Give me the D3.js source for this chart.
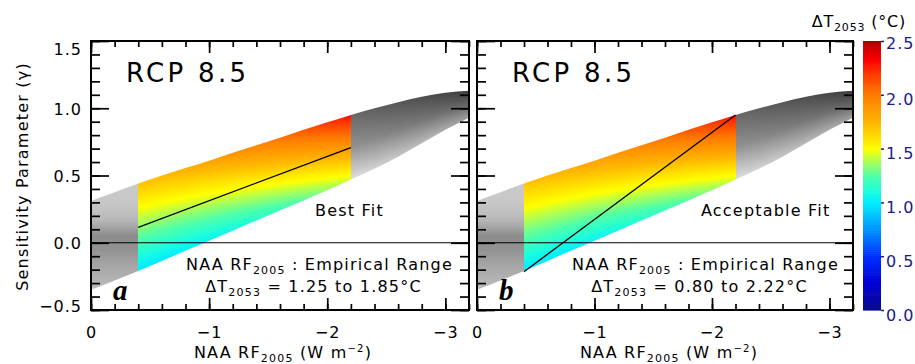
<!DOCTYPE html>
<html>
<head>
<meta charset="utf-8">
<script src="https://cdn.jsdelivr.net/npm/d3@7"></script>
<style>
  html, body { margin: 0; padding: 0; background: #fff; }
  svg { display: block; font-family: "DejaVu Sans", sans-serif; }
</style>
</head>
<body>
<script>
// Envelope of the sensitivity parameter (gamma) against NAA RF2005
const rfSamples  = [0, -0.2, -0.4, -0.6, -0.8, -1.0, -1.2, -1.4, -1.6, -1.8, -2.0, -2.2, -2.4, -2.6, -2.8, -3.0, -3.2];
const gammaUpper = [0.31, 0.375, 0.44, 0.50, 0.555, 0.61, 0.67, 0.725, 0.78, 0.84, 0.895, 0.95, 1.00, 1.045, 1.085, 1.115, 1.13];
const gammaLower = [-0.35, -0.28, -0.21, -0.135, -0.06, 0.015, 0.09, 0.165, 0.24, 0.315, 0.39, 0.47, 0.55, 0.64, 0.74, 0.84, 0.93];

// Empirical range of NAA RF2005 and the ΔT2053 found on its lower / upper edges
const empiricalRF   = [-0.4, -2.2];
const edgeGammaLow  = [-0.215, 0.47];
const edgeDTLow     = [0.98, 1.45];
const edgeGammaHigh = [0.44, 0.95];
const edgeDTHigh    = [1.70, 2.30];

// Fit lines across the empirical range
const bestFitGamma   = [0.114, 0.708];
const acceptFitGamma = [-0.215, 0.95];

const scenario = "RCP 8.5";
const panelLetters = ["a", "b"];
const fitLabels = ["Best Fit", "Acceptable Fit"];
const fitGammas = [bestFitGamma, acceptFitGamma];
const dtRanges = [["1.25", "1.85"], ["0.80", "2.22"]];

// Axes
const xMajorTicks = [0, -1, -2, -3];
const xTickLabels = ["0", "−1", "−2", "−3"];
const yMajorTicks = [-0.5, 0, 0.5, 1.0, 1.5];
const yTickLabels = ["−0.5", "0.0", "0.5", "1.0", "1.5"];
const cbTicks = [0, 0.5, 1.0, 1.5, 2.0, 2.5];
const cbTickLabels = ["0.0", "0.5", "1.0", "1.5", "2.0", "2.5"];

// Colour table for ΔT2053
const cbStops  = [0, 0.25, 0.5, 0.75, 1.0, 1.12, 1.25, 1.38, 1.5, 1.75, 2.0, 2.2, 2.32, 2.42, 2.5];
const cbColors = ["#0a0a8c", "#0000d4", "#0030ff", "#0094ff", "#00eeff", "#20ffd8", "#50ffa8", "#a8ff58",
                  "#ffff00", "#ffb400", "#ff7c00", "#ff3800", "#ff0000", "#d80000", "#a00000"];

const W = 915, H = 364;
const svg = d3.select("body").append("svg").attr("width", W).attr("height", H);

const y = d3.scaleLinear().domain([-0.5, 1.5]).range([310, 41]);
const panelRanges = [[91, 469], [477, 853]];
const color = d3.scaleLinear().domain(cbStops).range(cbColors).interpolate(d3.interpolateRgb).clamp(true);

// lookup table for the colour scale
const LUT_N = 1024;
const lut = d3.range(LUT_N).map(i => d3.rgb(color(2.5 * i / (LUT_N - 1))));
const lutColor = v => lut[Math.max(0, Math.min(LUT_N - 1, Math.round(v / 2.5 * (LUT_N - 1))))];

const upper = d3.scaleLinear().domain(rfSamples).range(gammaUpper);
const lower = d3.scaleLinear().domain(rfSamples).range(gammaLower);
const dtLeft  = d3.scaleLinear().domain([edgeGammaLow[0], edgeGammaHigh[0]]).range([edgeDTLow[0], edgeDTHigh[0]]);
const dtRight = d3.scaleLinear().domain([edgeGammaLow[1], edgeGammaHigh[1]]).range([edgeDTLow[1], edgeDTHigh[1]]);
const across  = d3.scaleLinear().domain(empiricalRF).range([0, 1]);

// grey shading outside the empirical range
const greyLeft = d3.scaleLinear().domain([0.45, 0.3, 0.17, 0.05, -0.05, -0.16, -0.36]).range([202, 200, 184, 140, 146, 164, 190]).clamp(true);
const greyRightA = d3.scaleLinear().domain([0, 0.5, 1]).range([222, 145, 104]);
const greyRightB = d3.scaleLinear().domain([0, 0.5, 1]).range([160, 100, 60]);
const greyRightX = d3.scaleLinear().domain([empiricalRF[1], -3.2]).range([0, 1]).clamp(true);

function drawField(g, x) {
  const [x0, x1] = x.range();
  const top = y.range()[1], bot = y.range()[0];
  const cw = Math.round(x1 - x0), ch = Math.round(bot - top);
  const cv = document.createElement("canvas");
  cv.width = cw; cv.height = ch;
  const ctx = cv.getContext("2d");
  const img = ctx.createImageData(cw, ch);
  for (let i = 0; i < cw; i++) {
    const rf = x.invert(x0 + i + 0.5);
    const gu = upper(rf), gl = lower(rf);
    for (let j = 0; j < ch; j++) {
      const gm = y.invert(top + j + 0.5);
      let r, gg, b;
      if (rf > empiricalRF[0]) {
        r = gg = b = greyLeft(gm);
      } else if (rf >= empiricalRF[1]) {
        const s = across(rf);
        const dt = (1 - s) * dtLeft(gm) + s * dtRight(gm);
        const c = lutColor(dt);
        r = c.r; gg = c.g; b = c.b;
      } else {
        const t = Math.max(0, Math.min(1, (gm - gl) / (gu - gl)));
        const s = greyRightX(rf);
        r = gg = b = (1 - s) * greyRightA(t) + s * greyRightB(t);
      }
      const k = (j * cw + i) * 4;
      img.data[k] = r; img.data[k + 1] = gg; img.data[k + 2] = b; img.data[k + 3] = 255;
    }
  }
  ctx.putImageData(img, 0, 0);
  // keep only the envelope
  ctx.globalCompositeOperation = "destination-in";
  ctx.beginPath();
  d3.area()
    .x(d => x(d) - x0)
    .y0(d => y(lower(d)) - top)
    .y1(d => y(upper(d)) - top)
    .curve(d3.curveMonotoneX)
    .context(ctx)(rfSamples);
  ctx.fillStyle = "#000";
  ctx.fill();
  g.append("image")
    .attr("x", x0).attr("y", top)
    .attr("width", cw).attr("height", ch)
    .attr("href", cv.toDataURL());
}

// text with sub / superscripts
function richText(sel, parts) {
  parts.forEach(p => {
    const ts = sel.append("tspan").text(p.t);
    if (p.sub) ts.attr("font-size", 11).attr("dy", 4);
    else if (p.sup) ts.attr("font-size", 10).attr("dy", -6.5);
    else if (p.back) ts.attr("dy", p.back);
  });
  return sel;
}

panelRanges.forEach((range, k) => {
  const x = d3.scaleLinear().domain([0, -3.2]).range(range);
  const [x0, x1] = range;
  const g = svg.append("g");

  drawField(g, x);

  // gamma = 0 reference
  g.append("line")
    .attr("x1", x0).attr("x2", x1)
    .attr("y1", y(0)).attr("y2", y(0))
    .attr("stroke", "#000").attr("stroke-width", 1.2);

  // fit line
  g.append("path")
    .attr("d", d3.line().x(d => x(d[0])).y(d => y(d[1]))(empiricalRF.map((r, i) => [r, fitGammas[k][i]])))
    .attr("fill", "none").attr("stroke", "#000").attr("stroke-width", 1.3);

  // axes: ticks drawn inward on all four sides
  const yMinor = d3.range(-0.5, 1.5001, 0.1).map(v => +v.toFixed(2));
  const xMinor = d3.range(0, -3.2001, -0.2).map(v => +v.toFixed(2));
  const styleAxis = a => { a.select(".domain").remove(); a.selectAll("line").attr("stroke-width", 1.7); };

  const yl = g.append("g").attr("transform", `translate(${x0},0)`)
    .call(d3.axisLeft(y).tickValues(yMinor).tickSizeInner(-9).tickSizeOuter(0).tickFormat(""));
  styleAxis(yl);
  const ylM = g.append("g").attr("transform", `translate(${x0},0)`)
    .call(d3.axisLeft(y).tickValues(yMajorTicks).tickSizeInner(-18).tickSizeOuter(0).tickPadding(9)
      .tickFormat((d, i) => k === 0 ? yTickLabels[i] : ""));
  styleAxis(ylM);
  ylM.selectAll("text")
    .attr("font-family", "DejaVu Sans").attr("font-size", 16).attr("letter-spacing", 1).attr("fill", "#000")
    .attr("dy", null)
    .attr("y", d => d === 1.5 ? 13 : d === -0.5 ? 1 : 5.8);

  const yr = g.append("g").attr("transform", `translate(${x1},0)`)
    .call(d3.axisRight(y).tickValues(yMinor).tickSizeInner(-9).tickSizeOuter(0).tickFormat(""));
  styleAxis(yr);
  const yrM = g.append("g").attr("transform", `translate(${x1},0)`)
    .call(d3.axisRight(y).tickValues(yMajorTicks).tickSizeInner(-18).tickSizeOuter(0).tickFormat(""));
  styleAxis(yrM);

  const xb = g.append("g").attr("transform", `translate(0,${y(-0.5)})`)
    .call(d3.axisBottom(x).tickValues(xMinor).tickSizeInner(-6).tickSizeOuter(0).tickFormat(""));
  styleAxis(xb);
  const xbM = g.append("g").attr("transform", `translate(0,${y(-0.5)})`)
    .call(d3.axisBottom(x).tickValues(xMajorTicks).tickSizeInner(-12).tickSizeOuter(0)
      .tickFormat((d, i) => xTickLabels[i]));
  styleAxis(xbM);
  xbM.selectAll("text")
    .attr("font-family", "DejaVu Sans").attr("font-size", 16).attr("letter-spacing", 1).attr("fill", "#000")
    .attr("dy", null).attr("y", 27.5);

  const xt = g.append("g").attr("transform", `translate(0,${y(1.5)})`)
    .call(d3.axisTop(x).tickValues(xMinor).tickSizeInner(-6).tickSizeOuter(0).tickFormat(""));
  styleAxis(xt);
  const xtM = g.append("g").attr("transform", `translate(0,${y(1.5)})`)
    .call(d3.axisTop(x).tickValues(xMajorTicks).tickSizeInner(-12).tickSizeOuter(0).tickFormat(""));
  styleAxis(xtM);

  // frame
  g.append("rect")
    .attr("x", x0).attr("y", y(1.5))
    .attr("width", x1 - x0).attr("height", y(-0.5) - y(1.5))
    .attr("fill", "none").attr("stroke", "#000").attr("stroke-width", 2);

  // labels
  g.append("text")
    .attr("x", x0 + 35).attr("y", 81.5)
    .attr("font-size", 26).attr("letter-spacing", 3.3)
    .text(scenario);

  g.append("text")
    .attr("x", x0 + 224).attr("y", 216)
    .attr("font-size", 16).attr("letter-spacing", 1.2)
    .text(fitLabels[k]);

  richText(g.append("text")
    .attr("x", x0 + 228.5).attr("y", 270)
    .attr("text-anchor", "middle")
    .attr("font-size", 16).attr("letter-spacing", 1.2),
    [{ t: "NAA RF" }, { t: "2005", sub: true }, { t: " : Empirical Range", back: -4 }]);

  richText(g.append("text")
    .attr("x", x0 + 222.5).attr("y", 291.5)
    .attr("text-anchor", "middle")
    .attr("font-size", 16).attr("letter-spacing", 1.2),
    [{ t: "ΔT" }, { t: "2053", sub: true }, { t: " = " + dtRanges[k][0] + " to " + dtRanges[k][1] + "°C", back: -4 }]);

  g.append("text")
    .attr("x", x0 + 22).attr("y", 300)
    .attr("font-family", "Liberation Serif, serif")
    .attr("font-weight", "bold").attr("font-style", "italic")
    .attr("font-size", 29)
    .text(panelLetters[k]);

  richText(g.append("text")
    .attr("x", x0 + 192).attr("y", 358)
    .attr("text-anchor", "middle")
    .attr("font-size", 16).attr("letter-spacing", 1.2),
    [{ t: "NAA RF" }, { t: "2005", sub: true }, { t: " (W m", back: -4 }, { t: "−2", sup: true }, { t: ")", back: 6.5 }]);
});

// y-axis title
svg.append("text")
  .attr("transform", "translate(28,176.5) rotate(-90)")
  .attr("text-anchor", "middle")
  .attr("font-size", 16).attr("letter-spacing", 1.2)
  .text("Sensitivity Parameter (γ)");

// colour bar
const cb = d3.scaleLinear().domain([0, 2.5]).range([310, 41]);
const cbX = 863, cbW = 18;
const nBands = 128;
const bandEdges = d3.range(nBands + 1).map(i => 2.5 * i / nBands);
svg.append("g").selectAll("rect")
  .data(d3.range(nBands))
  .join("rect")
  .attr("x", cbX).attr("width", cbW)
  .attr("y", i => cb(bandEdges[i + 1]))
  .attr("height", i => cb(bandEdges[i]) - cb(bandEdges[i + 1]) + 0.6)
  .attr("fill", i => color((bandEdges[i] + bandEdges[i + 1]) / 2));

const cbAxis = svg.append("g").attr("transform", `translate(${cbX + cbW},0)`)
  .call(d3.axisRight(cb).tickValues(cbTicks).tickSizeInner(3).tickSizeOuter(0).tickPadding(2)
    .tickFormat((d, i) => cbTickLabels[i]));
cbAxis.select(".domain").remove();
cbAxis.selectAll("line").attr("stroke", "#1a1a8c").attr("stroke-width", 1.5);
cbAxis.selectAll("text")
  .attr("font-family", "DejaVu Sans").attr("font-size", 16).attr("letter-spacing", 1)
  .attr("fill", "#1a1a8c")
  .attr("dy", null)
  .attr("y", d => d === 2.5 ? 7 : 10);

richText(svg.append("text")
  .attr("x", 906).attr("y", 26.5)
  .attr("text-anchor", "end")
  .attr("font-size", 16).attr("letter-spacing", 0.8),
  [{ t: "ΔT" }, { t: "2053", sub: true }, { t: " (°C)", back: -4 }]);
</script>
</body>
</html>
